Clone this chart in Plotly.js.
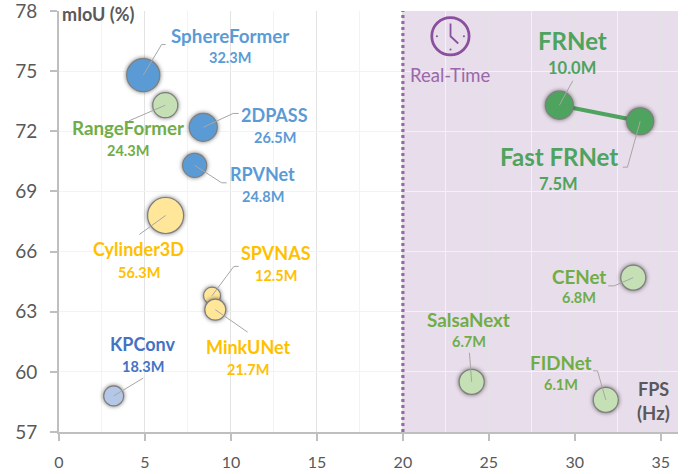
<!DOCTYPE html>
<html><head><meta charset="utf-8">
<script src="https://cdn.plot.ly/plotly-3.0.1.min.js"></script>
<style>
html,body{margin:0;padding:0;background:#fff}
#chart{width:689px;height:474px}
.scatterlayer .trace.bubbles .point{filter:drop-shadow(0 0 2px rgba(40,40,40,.65))}
</style></head><body><div id="chart"></div>
<script>
// ---- data ----
const models = ["SphereFormer","RangeFormer","2DPASS","RPVNet","Cylinder3D","SPVNAS","MinkUNet","KPConv","FRNet","Fast FRNet","CENet","SalsaNext","FIDNet"];
const fps    = [4.9,6.18,8.39,7.89,6.2,8.9,9.09,3.18,29.1,33.8,33.4,24.0,31.8];
const miou   = [74.8,73.3,72.2,70.3,67.8,63.8,63.1,58.8,73.3,72.5,64.7,59.5,58.6];
const params = ["32.3M","24.3M","26.5M","24.8M","56.3M","12.5M","21.7M","18.3M","10.0M","7.5M","6.8M","6.7M","6.1M"];
const families = ["point","range","point","point","voxel","voxel","voxel","kp","ours","ours","range","range","range"];
const diameters = [33,25,28,24,36,17,21,20,28,27,25,25,25];
const xTicks = [0,5,10,15,20,25,30,35];
const yTicks = [57,60,63,66,69,72,75,78];

// ---- styles ----
const fillOf = {point:"#5b9bd5",range:"#c5e0b4",voxel:"#ffe699",kp:"#b4c7e7",ours:"#4ea35f"};
const textOf = {point:"#5b9bd5",range:"#70ad47",voxel:"#ffc000",kp:"#4472c4",ours:"#4ea35f"};
const FONT = "Lato, 'Open Sans', sans-serif";
const PURPLE = "#9b67ab";

// label anchor positions [name x, name y, param y], in axis units
const labelAt = [
 [9.94,76.78,75.68],[4.03,72.17,71.03],[12.54,72.81,71.70],[11.84,69.88,68.76],
 [4.65,66.12,64.96],[12.60,65.95,64.81],[11.0,61.26,60.11],[4.87,61.41,60.26],
 [29.86,76.54,75.16],[29.07,70.76,69.35],[30.23,64.75,63.69],[23.84,62.62,61.52],[29.17,60.47,59.35]];
// leader end points, in axis units
const leaderEnd = [
 [[5.97,76.33],[6.2,76.33]],[[4.07,72.52]],[[10.13,72.89],[10.45,72.89]],[[9.46,69.43],[9.75,69.43]],
 [[4.67,66.85]],[[10.17,65.26],[10.45,65.26]],[[10.97,61.98]],[[4.9,59.69]],
 [[29.88,74.52]],[[33.06,70.21],[32.79,70.21]],[[32.29,64.29],[31.94,64.29]],[[23.87,60.95]],[[31.32,60.05],[31.06,60.05]]];

const lx=[], ly=[];
models.forEach((m,i)=>{ lx.push(fps[i]); ly.push(miou[i]);
  leaderEnd[i].forEach(p=>{lx.push(p[0]); ly.push(p[1]);}); lx.push(null); ly.push(null); });

const iF = models.indexOf("FRNet"), iS = models.indexOf("Fast FRNet");
const traces = [
 {type:"scatter",mode:"lines",x:[fps[iF],fps[iS]],y:[miou[iF],miou[iS]],
  line:{color:fillOf.ours,width:4},hoverinfo:"skip"},
 {type:"scatter",mode:"markers",x:fps,y:miou,text:models,
  marker:{size:diameters,sizemode:"diameter",color:families.map(f=>fillOf[f]),
          line:{color:"#7f7f7f",width:1.2},opacity:1}},
 {type:"scatter",mode:"lines",x:lx,y:ly,line:{color:"#a6a6a6",width:1},hoverinfo:"skip"}
];

const anns = [];
const big = new Set(["FRNet","Fast FRNet"]);
const compact = new Set(["2DPASS","RPVNet","KPConv","SPVNAS","MinkUNet","Cylinder3D"]);
models.forEach((m,i)=>{
  const c = textOf[families[i]], b = big.has(m);
  anns.push({x:labelAt[i][0],y:labelAt[i][1],xref:"x",yref:"y",text:"<b>"+m+"</b>",showarrow:false,
    font:{family:FONT,size:b?24:(compact.has(m)?18:18.8),color:c}});
  anns.push({x:labelAt[i][0],y:labelAt[i][2],xref:"x",yref:"y",text:"<b>"+params[i]+"</b>",showarrow:false,
    font:{family:FONT,size:b?16.5:14.5,color:c}});
});
anns.push({x:22.75,y:74.83,xref:"x",yref:"y",text:"Real-Time",showarrow:false,font:{family:FONT,size:18.5,color:PURPLE}});
anns.push({x:34.55,y:59.13,xref:"x",yref:"y",text:"<b>FPS</b>",showarrow:false,font:{family:FONT,size:18,color:"#595959"}});
anns.push({x:34.55,y:57.93,xref:"x",yref:"y",text:"<b>(Hz)</b>",showarrow:false,font:{family:FONT,size:18.5,color:"#595959"}});
anns.push({x:2.28,y:77.85,xref:"x",yref:"y",text:"<b>mIoU (%)</b>",showarrow:false,font:{family:FONT,size:18,color:"#595959"}});

const clock = {line:{color:"#8a4f9e",width:2.8}};
const dot = (x,y)=>({type:"circle",xref:"x",yref:"y",x0:x-.06,x1:x+.06,y0:y-.05,y1:y+.05,fillcolor:"#8a4f9e",line:{width:0},layer:"above"});
const shapes = [
 {type:"rect",xref:"x",yref:"y",x0:20,x1:36,y0:57,y1:78,fillcolor:"#e8ddea",line:{width:0},layer:"below"},
 {type:"line",xref:"x",yref:"y",x0:20,x1:20,y0:57,y1:78,line:{color:PURPLE,width:3.2,dash:"3px,3px"},layer:"above"},
 {type:"circle",xref:"x",yref:"y",x0:21.68,x1:23.85,y0:75.81,y1:77.67,fillcolor:"rgba(0,0,0,0)",line:clock.line,layer:"above"},
 {type:"path",xref:"x",yref:"y",path:"M 22.77 77.38 L 22.77 76.74 L 23.22 76.38",line:{color:"#8a4f9e",width:1.8},fillcolor:"rgba(0,0,0,0)",layer:"above"},
 dot(21.98,76.74),dot(23.55,76.74),dot(22.77,76.08)
];

const layout = {
  width:689,height:474,
  margin:{l:59,r:11,t:11,b:42,pad:0},
  paper_bgcolor:"#fff",plot_bgcolor:"rgba(0,0,0,0)",
  showlegend:false,hovermode:"closest",
  font:{family:FONT,color:"#595959"},
  xaxis:{range:[0,36],tickmode:"array",tickvals:xTicks,ticktext:xTicks.map(String),
    showline:true,linecolor:"#bfbfbf",linewidth:2,ticks:"outside",ticklen:7,tickwidth:1.5,tickcolor:"#bfbfbf",
    showgrid:true,gridcolor:"#e3e3e3",gridwidth:1,zeroline:false,
    minor:{dtick:2.5,tick0:0,showgrid:true,gridcolor:"#f4f2f5",gridwidth:1.2,ticks:""},
    tickfont:{family:FONT,size:16,color:"#595959"},ticklabelstandoff:8,ticklabeloverflow:"allow"},
  yaxis:{range:[57,78],tickmode:"array",tickvals:yTicks,ticktext:yTicks.map(String),
    showline:true,linecolor:"#bfbfbf",linewidth:2,ticks:"outside",ticklen:7,tickwidth:1.5,tickcolor:"#bfbfbf",
    showgrid:true,gridcolor:"#f3f2f4",gridwidth:1,zeroline:false,
    tickfont:{family:FONT,size:19,color:"#595959"},ticklabelstandoff:9,ticklabeloverflow:"allow"},
  shapes:shapes,annotations:anns
};
Plotly.newPlot("chart",traces,layout,{displayModeBar:false,responsive:false}).then(()=>{
  document.querySelectorAll(".scatterlayer .trace")[1].classList.add("bubbles");
});
</script></body></html>
